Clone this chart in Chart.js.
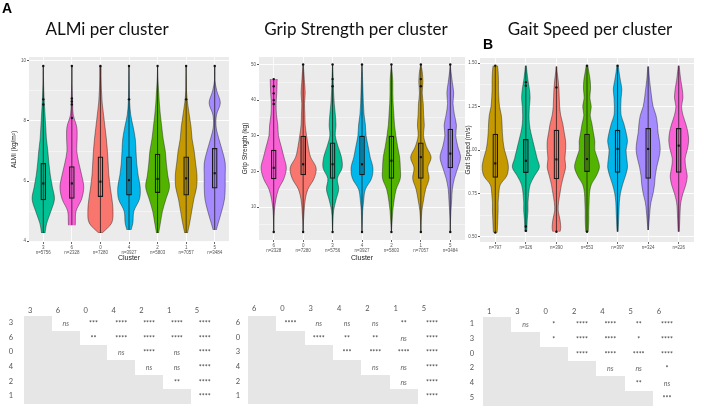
<!DOCTYPE html>
<html>
<head>
<meta charset="utf-8">
<script src="https://cdn.jsdelivr.net/npm/chart.js@4.4.1/dist/chart.umd.min.js"></script>
<style>
  body { margin: 0; width: 709px; height: 408px; background: #fff; position: relative; overflow: hidden; font-family: Lato, "Open Sans", sans-serif; }
  canvas { position: absolute; }
  .title { position: absolute; width: 300px; text-align: center; font-size: 17px; line-height: 20px; color: #111; white-space: nowrap; filter: grayscale(100%); }
  .tag { position: absolute; font: bold 14px "Liberation Sans", Arial, sans-serif; color: #000; filter: grayscale(100%); }
  .sig { position: absolute; left: 0; top: 0; font-size: 7px; color: #555; filter: grayscale(100%); }
  .sig div { position: absolute; text-align: center; white-space: nowrap; }
</style>
</head>
<body>
<div class="tag" style="left:2px;top:0px">A</div>
<div class="tag" style="left:483px;top:36px">B</div>
<div class="title" style="left:-43px;top:19px">ALMi per cluster</div>
<div class="title" style="left:206px;top:19px">Grip Strength per cluster</div>
<div class="title" style="left:440px;top:19px">Gait Speed per cluster</div>

<canvas id="almiChart" width="235" height="268" style="left:0;top:0"></canvas>
<canvas id="gripChart" width="235" height="268" style="left:235px;top:0"></canvas>
<canvas id="gaitChart" width="247" height="268" style="left:462px;top:0"></canvas>

<div class="sig" id="almiSigTable"></div>
<div class="sig" id="gripSigTable"></div>
<div class="sig" id="gaitSigTable"></div>

<script>
// ggplot default hues, indexed by cluster number 0..6
const clusterColors = ['#F8766D', '#C49A00', '#53B400', '#00C094', '#00B6EB', '#A58AFF', '#FB61D7'];

// ---- ALMi ----
const almiClusters = ['3', '6', '0', '4', '2', '1', '5'];
const almiN = [5756, 2328, 7280, 3927, 5803, 7057, 3484];
const almiQ1 = [5.37, 5.42, 5.48, 5.53, 5.61, 5.53, 5.76];
const almiMedian = [5.92, 5.92, 5.98, 6.03, 6.07, 6.09, 6.26];
const almiQ3 = [6.59, 6.48, 6.81, 6.81, 6.90, 6.81, 7.09];
const almiLow = [4.27, 4.53, 4.27, 4.37, 4.27, 4.27, 4.37];
const almiHigh = [9.83, 9.83, 9.83, 9.83, 9.83, 9.83, 9.83];
const almiOutliers = [['3', 9.83], ['3', 8.72], ['3', 8.55], ['6', 9.83], ['6', 8.75], ['6', 8.65], ['6', 8.55], ['6', 8.1],
  ['0', 9.83], ['4', 9.83], ['4', 8.72], ['2', 9.83], ['1', 9.83], ['1', 8.72], ['5', 9.83]];
const almiLevels = [9.83, 9.4, 9.0, 8.6, 8.2, 7.8, 7.4, 7.0, 6.6, 6.2, 5.8, 5.4, 5.0, 4.6, 4.27];
const almiDensity = [
  [0, 0.5, 1.5, 3, 5, 7, 9, 13, 16, 20, 26, 32, 22, 10, 5],
  [0, 0, 1, 2, 4, 14, 15, 14, 20, 28, 34, 28, 12, 10, 8],
  [2, 2, 3, 5, 9, 13, 17, 20, 22, 24, 28, 33, 36, 32, 5],
  [0, 0.5, 1, 2, 5, 12, 18, 20, 22, 26, 32, 30, 14, 11, 3],
  [0, 1, 3, 5, 8, 12, 16, 22, 25, 29, 34, 24, 14, 8, 3],
  [0, 0.5, 1, 4, 9, 14, 17, 23, 27, 31, 30, 22, 16, 10, 4],
  [0, 0, 6, 16, 5, 4, 12, 22, 30, 30, 30, 28, 20, 10, 2]
];
const almiTicks = [4, 5, 6, 7, 8, 9, 10];
const almiMajor = [4, 6, 8, 10];

// ---- Grip strength ----
const gripClusters = ['6', '0', '3', '4', '2', '1', '5'];
const gripN = [2328, 7280, 5756, 3927, 5803, 7057, 3484];
const gripQ1 = [17.9, 19.0, 18.0, 19.0, 18.0, 18.0, 21.0];
const gripMedian = [21.0, 22.0, 22.0, 22.0, 23.0, 24.0, 25.0];
const gripQ3 = [26.0, 29.9, 28.0, 29.9, 29.9, 28.0, 31.9];
const gripLow = [3, 3, 3, 3, 3, 3, 3];
const gripHigh = [45.9, 50, 50, 50, 50, 50, 50];
const gripOutliers = [['6', 45.9], ['6', 43.9], ['6', 41.9], ['6', 40.0], ['6', 38.9], ['6', 3], ['0', 50], ['0', 3],
  ['3', 50], ['3', 45.9], ['3', 43.9], ['3', 3], ['4', 50], ['4', 3], ['2', 50], ['2', 3],
  ['1', 50], ['1', 45.9], ['1', 43.9], ['1', 3], ['5', 50], ['5', 3]];
const gripLevels = [50, 48, 45, 42, 39, 36, 33, 30, 27, 24, 21, 18, 15, 12, 9, 6, 3];
const gripDensity = [
  [10, 10, 10, 9, 7, 8, 12, 14, 22, 30, 37, 30, 14, 6, 2, 0.5, 0],
  [0, 2, 4, 6, 4, 5, 6, 10, 15, 22, 38, 32, 14, 6, 3, 1, 0],
  [0, 1, 2, 3, 5, 8, 10, 8, 16, 26, 28, 14, 18, 10, 3, 1, 0],
  [0, 1, 2, 3, 4, 6, 10, 12, 18, 24, 32, 28, 10, 5, 2, 1, 0],
  [0, 2, 4, 4, 5, 7, 9, 13, 18, 24, 26, 26, 14, 8, 4, 2, 0],
  [0, 4, 6, 4, 7, 8, 10, 8, 16, 30, 20, 24, 14, 8, 3, 1, 0],
  [0, 2, 6, 10, 8, 12, 18, 16, 22, 30, 22, 12, 6, 4, 2, 0.5, 0]
];
const gripTicks = [5, 10, 15, 20, 25, 30, 35, 40, 45, 50];
const gripMajor = [10, 20, 30, 40, 50];

// ---- Gait speed ----
const gaitClusters = ['1', '3', '0', '2', '4', '5', '6'];
const gaitN = [797, 326, 390, 553, 397, 324, 226];
const gaitQ1 = [0.842, 0.869, 0.833, 0.875, 0.871, 0.837, 0.871];
const gaitMedian = [0.923, 0.938, 0.946, 0.948, 1.006, 1.006, 1.025];
const gaitQ3 = [1.092, 1.062, 1.115, 1.092, 1.115, 1.125, 1.125];
const gaitLow = [0.525, 0.53, 0.53, 0.53, 0.53, 0.54, 0.53];
const gaitHigh = [1.485, 1.485, 1.48, 1.485, 1.485, 1.48, 1.485];
const gaitOutliers = [['1', 1.485], ['1', 0.525], ['3', 1.39], ['3', 1.37], ['3', 0.56], ['3', 0.535],
  ['0', 1.36], ['0', 0.53], ['2', 1.485], ['2', 0.53], ['4', 1.485]];
const gaitLevels = [1.49, 1.45, 1.40, 1.35, 1.30, 1.25, 1.20, 1.15, 1.10, 1.05, 1.00, 0.95, 0.90, 0.85, 0.80, 0.75, 0.70, 0.65, 0.60, 0.55, 0.52];
const gaitDensity = [
  [6, 8, 9, 9, 10, 12, 17, 19, 20, 22, 26, 33, 37, 32, 14, 10, 8, 8, 7, 6, 5],
  [1, 3, 6, 10, 12, 10, 9, 10, 14, 20, 26, 32, 38, 24, 12, 8, 6, 6, 4, 3, 2],
  [1, 2, 5, 7, 8, 9, 12, 18, 22, 26, 26, 24, 26, 20, 14, 10, 6, 5, 10, 12, 8],
  [2, 5, 9, 10, 8, 12, 9, 14, 18, 22, 22, 30, 35, 26, 12, 7, 6, 5, 5, 4, 3],
  [2, 4, 8, 12, 10, 9, 10, 18, 24, 28, 24, 26, 28, 22, 14, 8, 5, 4, 3, 2, 1],
  [1, 2, 4, 7, 10, 14, 22, 26, 28, 32, 34, 30, 24, 20, 18, 14, 8, 5, 3, 1, 0],
  [1, 3, 6, 10, 12, 8, 12, 20, 26, 28, 24, 18, 20, 24, 20, 12, 6, 4, 3, 2, 1]
];
const gaitTicks = [0.5, 0.625, 0.75, 0.875, 1.0, 1.125, 1.25, 1.375, 1.5];
const gaitMajor = [0.5, 0.75, 1.0, 1.25, 1.5];

// ---- pairwise significance (row i vs the columns after it) ----
const almiSig = [
  ['ns', '***', '****', '****', '****', '****'],
  ['**', '****', '****', '****', '****'],
  ['ns', '****', 'ns', '****'],
  ['ns', 'ns', '****'],
  ['**', '****'],
  ['****']
];
const gripSig = [
  ['****', 'ns', 'ns', 'ns', '**', '****'],
  ['****', '**', '**', 'ns', '****'],
  ['***', '****', '****', '****'],
  ['ns', 'ns', '****'],
  ['ns', '****'],
  ['****']
];
const gaitSig = [
  ['ns', '*', '****', '****', '**', '****'],
  ['*', '****', '****', '*', '****'],
  ['****', '****', '****', '****'],
  ['ns', 'ns', '*'],
  ['**', 'ns'],
  ['***']
];


// catmull-rom through the points
function curveThrough(ctx, pts) {
  for (let i = 0; i < pts.length - 1; i++) {
    const p0 = pts[i - 1] || pts[i], p1 = pts[i], p2 = pts[i + 1], p3 = pts[i + 2] || p2;
    ctx.bezierCurveTo(p1.x + (p2.x - p0.x) / 6, p1.y + (p2.y - p0.y) / 6,
      p2.x - (p3.x - p1.x) / 6, p2.y - (p3.y - p1.y) / 6, p2.x, p2.y);
  }
}

function violinLayer(ids, levels, dens, lows, highs) {
  return {
    id: 'violins',
    beforeDraw(chart) {
      const a = chart.chartArea;
      const ctx = chart.ctx;
      ctx.save();
      ctx.fillStyle = '#EBEBEB';
      ctx.fillRect(a.left, a.top, a.right - a.left, a.bottom - a.top);
      ctx.restore();
    },
    beforeDatasetsDraw(chart) {
      const ctx = chart.ctx;
      const x = chart.scales.x, y = chart.scales.y;
      const slot = x.getPixelForValue(1) - x.getPixelForValue(0);
      const dMax = Math.max(...dens.flat());
      const k = slot * 0.44 / dMax;
      dens.forEach((d, i) => {
        const cx = x.getPixelForValue(i);
        const top = y.getPixelForValue(highs[i]), bottom = y.getPixelForValue(lows[i]);
        const right = levels.map((lv, j) => ({ x: cx + d[j] * k, y: y.getPixelForValue(lv) }));
        const left = levels.map((lv, j) => ({ x: cx - d[j] * k, y: y.getPixelForValue(lv) })).reverse();
        ctx.save();
        ctx.beginPath();
        ctx.rect(cx - slot, top, slot * 2, bottom - top);
        ctx.clip();
        ctx.beginPath();
        ctx.moveTo(right[0].x, right[0].y);
        curveThrough(ctx, right);
        ctx.lineTo(left[0].x, left[0].y);
        curveThrough(ctx, left);
        ctx.closePath();
        ctx.fillStyle = clusterColors[+ids[i]];
        ctx.fill();
        ctx.lineWidth = 0.6;
        ctx.strokeStyle = 'rgba(30,30,30,0.75)';
        ctx.stroke();
        ctx.restore();

        ctx.save();
        ctx.beginPath();
        ctx.moveTo(cx, top);
        ctx.lineTo(cx, bottom);
        ctx.lineWidth = 0.7;
        ctx.strokeStyle = '#111';
        ctx.stroke();
        ctx.restore();
      });
    }
  };
}

function makeChart(canvasId, opt) {
  const tickFont = { family: 'Liberation Sans', size: 4.5 };
  return new Chart(document.getElementById(canvasId), {
    type: 'bar',
    data: {
      labels: opt.ids,
      datasets: [
        {
          type: 'bar',
          data: opt.q1.map((q, i) => [q, opt.q3[i]]),
          backgroundColor: 'rgba(0,0,0,0)',
          borderColor: '#1a1a1a',
          borderWidth: 0.6,
          borderSkipped: false,
          barThickness: 5,
          order: 3
        },
        {
          type: 'line',
          data: opt.median,
          showLine: false,
          pointStyle: 'rect',
          pointRadius: 1.5,
          pointBackgroundColor: '#111',
          pointBorderWidth: 0,
          order: 2
        },
        {
          type: 'line',
          data: opt.outliers.map(o => ({ x: o[0], y: o[1] })),
          showLine: false,
          pointRadius: 1.2,
          pointBackgroundColor: '#111',
          pointBorderWidth: 0,
          order: 1
        }
      ]
    },
    options: {
      responsive: false,
      animation: false,
      layout: { padding: opt.padding },
      plugins: { legend: { display: false }, tooltip: { enabled: false } },
      scales: {
        x: {
          offset: true,
          border: { display: false },
          grid: { offset: false, color: '#ffffff', lineWidth: 0.8, tickColor: '#444', tickLength: 2 },
          ticks: {
            font: tickFont, color: '#555', padding: 1, maxRotation: 0, autoSkip: false,
            callback: (v, i) => opt.xLabel(i)
          },
          title: { display: !!opt.xTitle, text: opt.xTitle, color: '#222', font: { family: 'Liberation Sans', size: 7 }, padding: { top: 0, bottom: 6 } },
          afterFit: s => { s.height = opt.xHeight; }
        },
        y: {
          min: opt.yMin, max: opt.yMax,
          border: { display: false },
          afterBuildTicks: s => { s.ticks = opt.ticks.map(v => ({ value: v })); },
          grid: {
            color: '#ffffff',
            lineWidth: c => opt.major.includes(c.tick.value) ? 0.9 : 0.45,
            tickColor: c => opt.major.includes(c.tick.value) ? '#444' : 'rgba(0,0,0,0)',
            tickLength: 2
          },
          ticks: {
            font: tickFont, color: '#555', padding: 1,
            callback: v => opt.major.includes(v) ? opt.yFmt(v) : ''
          },
          title: { display: true, text: opt.yTitle, color: '#222', font: { family: 'Liberation Sans', size: 6.5 }, padding: { top: opt.yTitlePad, bottom: 0 } },
          afterFit: s => { s.width = opt.yWidth; }
        }
      }
    },
    plugins: [violinLayer(opt.ids, opt.levels, opt.dens, opt.low, opt.high)]
  });
}

makeChart('almiChart', {
  ids: almiClusters, q1: almiQ1, q3: almiQ3, median: almiMedian, outliers: almiOutliers,
  levels: almiLevels, dens: almiDensity, low: almiLow, high: almiHigh,
  ticks: almiTicks, major: almiMajor, yMin: 3.97, yMax: 10.13, yFmt: v => String(v),
  xLabel: i => [almiClusters[i], 'n=' + almiN[i]], xTitle: 'Cluster',
  yTitle: 'ALMi (kg/m²)', yTitlePad: 10,
  padding: { top: 57, right: 6, left: 0, bottom: 0 }, yWidth: 29, xHeight: 26
});

makeChart('gripChart', {
  ids: gripClusters, q1: gripQ1, q3: gripQ3, median: gripMedian, outliers: gripOutliers,
  levels: gripLevels, dens: gripDensity, low: gripLow, high: gripHigh,
  ticks: gripTicks, major: gripMajor, yMin: 0.75, yMax: 52.1, yFmt: v => String(v),
  xLabel: i => [gripClusters[i], 'n=' + gripN[i]], xTitle: 'Cluster',
  yTitle: 'Grip Strength (kg)', yTitlePad: 6,
  padding: { top: 57, right: 5, left: 0, bottom: 0 }, yWidth: 24, xHeight: 28
});

makeChart('gaitChart', {
  ids: gaitClusters, q1: gaitQ1, q3: gaitQ3, median: gaitMedian, outliers: gaitOutliers,
  levels: gaitLevels, dens: gaitDensity, low: gaitLow, high: gaitHigh,
  ticks: gaitTicks, major: gaitMajor, yMin: 0.471, yMax: 1.529, yFmt: v => v.toFixed(2),
  xLabel: i => 'n=' + gaitN[i], xTitle: '',
  yTitle: 'Gait Speed (m/s)', yTitlePad: 2,
  padding: { top: 58, right: 15, left: 0, bottom: 0 }, yWidth: 18, xHeight: 26
});


// significance tables
function buildTable(elId, order, sig, pos) {
  const el = document.getElementById(elId);
  const add = (text, x, y, w, h, extra) => {
    const d = document.createElement('div');
    d.textContent = text;
    d.style.left = x + 'px'; d.style.top = y + 'px';
    d.style.width = w + 'px'; d.style.height = h + 'px'; d.style.lineHeight = h + 'px';
    Object.assign(d.style, extra || {});
    el.appendChild(d);
    return d;
  };
  // header
  order.forEach((c, j) => add(c, pos.gray0 + j * pos.colW + 4, pos.headerY - 6, 10, 12, { textAlign: 'left', fontSize: '7.5px' }));
  sig.forEach((row, i) => {
    const y = pos.rowTop + i * pos.rowH;
    add(order[i], pos.labelX - 6, y, 12, pos.rowH, { fontSize: '7.5px' });
    add('', pos.gray0, y, (i + 1) * pos.colW, pos.rowH, { background: '#e6e6e6' });
    row.forEach((s, j) => {
      const col = i + 1 + j;
      add(s, pos.gray0 + col * pos.colW, y, pos.colW, pos.rowH,
        s === 'ns' ? { fontStyle: 'italic', color: '#666' } : { color: '#444' });
    });
  });
}

buildTable('almiSigTable', almiClusters, almiSig, { gray0: 24, colW: 27.8, headerY: 311, rowTop: 316, rowH: 14.67, labelX: 11 });
buildTable('gripSigTable', gripClusters, gripSig, { gray0: 248, colW: 28.3, headerY: 309, rowTop: 316, rowH: 14.67, labelX: 238 });
buildTable('gaitSigTable', gaitClusters, gaitSig, { gray0: 483, colW: 28.3, headerY: 312, rowTop: 317, rowH: 14.83, labelX: 472 });
</script>
</body>
</html>
